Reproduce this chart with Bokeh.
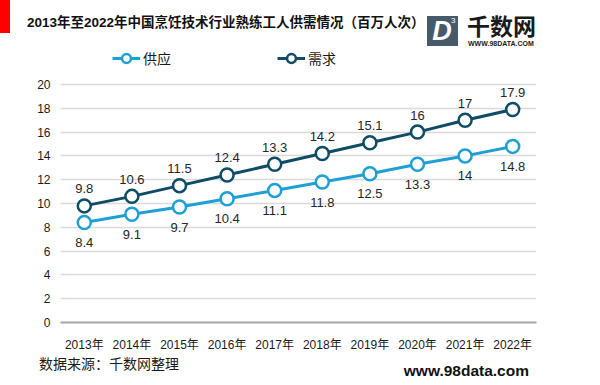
from bokeh.plotting import figure
from bokeh.layouts import column
from bokeh.models import (FactorRange, Range1d, ColumnDataSource, LabelSet, Div,
                          Legend, LegendItem, FixedTicker)
from bokeh.core.properties import value
from bokeh.embed import file_html
from bokeh.resources import INLINE

years = ["2013年", "2014年", "2015年", "2016年", "2017年", "2018年", "2019年", "2020年", "2021年", "2022年"]
supply = [8.4, 9.1, 9.7, 10.4, 11.1, 11.8, 12.5, 13.3, 14, 14.8]
demand = [9.8, 10.6, 11.5, 12.4, 13.3, 14.2, 15.1, 16, 17, 17.9]
y_ticks = [0, 2, 4, 6, 8, 10, 12, 14, 16, 18, 20]
series_names = ["供应", "需求"]

title_text = "2013年至2022年中国烹饪技术行业熟练工人供需情况（百万人次）"
source_text = "数据来源：千数网整理"
site_text = "www.98data.com"
logo_name = "千数网"
logo_url = "WWW.98DATA.COM"

W = 592
HEAD_H = 48          # header strip (title + logo)
FRAME_TOP = 48       # main frame starts right below header (legend lives inside)
AXIS_Y0 = 322        # pixel row of value 0
PX_PER_UNIT = 11.9
MAIN_BOTTOM = 36
TOTAL_H = 377
FONT = "Liberation Sans, Noto Sans CJK SC"
CSS_FONT = "'Liberation Sans','Noto Sans CJK SC',sans-serif"
C_SUP = "#1e9fd5"
C_DEM = "#0f4c66"
TXT = "#1a1a1a"

# ---------------- header ----------------
head_html = f"""
<div style="position:relative;width:{W}px;height:{HEAD_H}px;font-family:{CSS_FONT};color:{TXT};">
  <div style="position:absolute;left:0;top:0;width:10px;height:33px;background:#ff0000;"></div>
  <div style="position:absolute;left:27px;top:14px;font-size:13.5px;font-weight:bold;line-height:18px;white-space:nowrap;color:#111111;">{title_text}</div>
  <div style="position:absolute;left:427px;top:16px;width:31px;height:30px;background:#465a69;"></div>
  <div style="position:absolute;left:429px;top:15px;width:26px;text-align:center;font-family:'Liberation Sans';font-style:italic;font-weight:bold;font-size:27px;line-height:32px;color:white;">D</div>
  <div style="position:absolute;left:451px;top:16px;font-family:'Liberation Sans';font-size:8px;line-height:9px;color:white;">3</div>
  <div style="position:absolute;left:467px;top:14px;font-family:'Noto Sans CJK SC';font-weight:bold;font-size:23px;line-height:23px;white-space:nowrap;">{logo_name}</div>
  <div style="position:absolute;left:468px;top:40px;font-family:'Liberation Sans';font-weight:bold;font-size:7px;line-height:7px;white-space:nowrap;">{logo_url}</div>
</div>
"""
head = Div(text=head_html, width=W, height=HEAD_H, margin=0)

# ---------------- main chart ----------------
src = ColumnDataSource(dict(
    year=years, supply=supply, demand=demand,
    s_lab=[f"{v:g}" for v in supply], d_lab=[f"{v:g}" for v in demand],
))

frame_h = AXIS_Y0 - FRAME_TOP
main_h = frame_h + MAIN_BOTTOM
p = figure(width=W, height=main_h,
           x_range=FactorRange(*years, range_padding=0),
           y_range=Range1d(0, frame_h / PX_PER_UNIT), output_backend="svg",
           toolbar_location=None,
           min_border_left=60, min_border_right=W - 536,
           min_border_top=0, min_border_bottom=MAIN_BOTTOM, margin=0)
p.outline_line_color = None
p.background_fill_color = "white"
p.border_fill_color = "white"

p.xgrid.grid_line_color = None
p.ygrid.grid_line_color = "#d9d9d9"
p.ygrid.grid_line_width = 1.5
p.ygrid.ticker = FixedTicker(ticks=y_ticks)
p.yaxis.ticker = FixedTicker(ticks=y_ticks)
p.yaxis.axis_line_color = None
p.yaxis.major_tick_line_color = None
p.yaxis.minor_tick_line_color = None
p.yaxis.major_tick_out = 0
p.yaxis.major_tick_in = 0
p.yaxis.minor_tick_out = 0
p.yaxis.major_label_standoff = 10
p.yaxis.major_label_text_font = FONT
p.yaxis.major_label_text_font_size = "12px"
p.yaxis.major_label_text_color = TXT

p.xaxis.axis_line_color = "#a6a6a6"
p.xaxis.axis_line_width = 2
p.xaxis.major_tick_line_color = None
p.xaxis.minor_tick_line_color = None
p.xaxis.major_tick_out = 0
p.xaxis.major_tick_in = 0
p.xaxis.minor_tick_out = 0
p.xaxis.major_label_standoff = 15
p.xaxis.major_label_text_font = FONT
p.xaxis.major_label_text_font_size = "12px"
p.xaxis.major_label_text_color = TXT

ls = p.line("year", "supply", source=src, line_color=C_SUP, line_width=3)
cs = p.scatter("year", "supply", source=src, size=13, fill_color="white",
               line_color=C_SUP, line_width=2.5)
ld = p.line("year", "demand", source=src, line_color=C_DEM, line_width=3)
cd = p.scatter("year", "demand", source=src, size=13, fill_color="white",
               line_color=C_DEM, line_width=2.5)

p.add_layout(LabelSet(x="year", y="demand", text="d_lab", source=src, y_offset=17,
                      text_align="center", text_baseline="middle", text_font=value(FONT),
                      text_font_size="13px", text_color="#262626"))
p.add_layout(LabelSet(x="year", y="supply", text="s_lab", source=src, y_offset=-20,
                      text_align="center", text_baseline="middle", text_font=value(FONT),
                      text_font_size="13px", text_color="#262626"))

legend = Legend(items=[LegendItem(label=series_names[0], renderers=[ls, cs]),
                       LegendItem(label=series_names[1], renderers=[ld, cd])],
                orientation="horizontal", location=(112 - 60, AXIS_Y0 - 69),
                padding=0, margin=0, spacing=106, glyph_width=28, glyph_height=22,
                label_standoff=3, label_height=22,
                label_text_font=FONT, label_text_font_size="14px",
                label_text_color=TXT, border_line_color=None,
                background_fill_alpha=0)
p.add_layout(legend, "center")

# ---------------- footer ----------------
foot_top = HEAD_H + main_h
foot_h = TOTAL_H - foot_top
foot_html = f"""
<div style="position:relative;width:{W}px;height:{foot_h}px;font-family:{CSS_FONT};color:{TXT};overflow:visible;">
  <div style="position:absolute;left:39px;top:{364 - foot_top - 8}px;font-size:14px;line-height:16px;white-space:nowrap;">{source_text}</div>
  <div style="position:absolute;right:{W - 529}px;top:{371 - foot_top - 8}px;font-family:'Liberation Sans';font-weight:bold;font-size:15.5px;line-height:16px;white-space:nowrap;color:#111111;">{site_text}</div>
</div>
"""
foot = Div(text=foot_html, width=W, height=foot_h, margin=0)

layout = column(head, p, foot, spacing=0)
open("out.html", "w").write(file_html(layout, INLINE))
